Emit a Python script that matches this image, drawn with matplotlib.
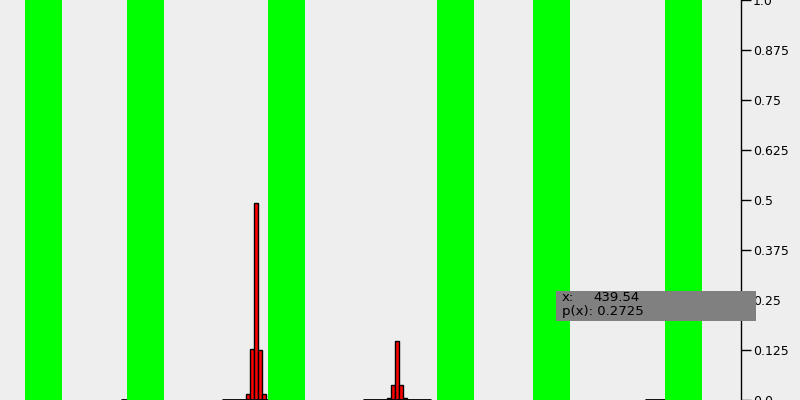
import numpy as np
import matplotlib.pyplot as plt

# green bands (x start, width in data units)
band_starts = [25, 127, 268, 437, 533, 665]
band_width = 37

# histogram bins: left edges and heights
bin_width = 4
left_1 = [222, 226, 230, 234, 238, 242, 246, 250, 254, 258, 262, 266]
height_1 = [0, 0, 0, 0, 0, 0, 0.015, 0.1275, 0.4925, 0.125, 0.015, 0]
left_2 = [363, 367, 371, 375, 379, 383, 387, 391, 395, 399, 403, 407, 411, 415, 419, 423, 427]
height_2 = [0, 0, 0, 0, 0, 0, 0.005, 0.0375, 0.1475, 0.0375, 0.005, 0, 0, 0, 0, 0, 0]
left_3 = [121, 125]
height_3 = [0, 0]
left_4 = [645, 649, 653, 657, 661]
height_4 = [0, 0, 0, 0, 0]

yticks = [0, 0.125, 0.25, 0.375, 0.5, 0.625, 0.75, 0.875, 1.0]
ylabels = ["0.0", "0.125", "0.25", "0.375", "0.5", "0.625", "0.75", "0.875", "1.0"]

tip_x = "439.54"
tip_p = "0.2725"

fig = plt.figure(figsize=(8, 4), dpi=100, facecolor="#eeeeee")
ax = fig.add_axes([0, 0, 1, 1])
ax.set_facecolor("#eeeeee")

for lefts, heights in [(left_1, height_1), (left_2, height_2), (left_3, height_3), (left_4, height_4)]:
    ax.bar(lefts, heights, width=bin_width, align="edge", color="#ff0000",
           edgecolor="black", linewidth=1.0, zorder=2)
    # bottom line of the bins
    ax.hlines(0, lefts[0], lefts[-1] + bin_width, color="black", linewidth=2.0, zorder=2)

for s in band_starts:
    ax.axvspan(s, s + band_width, color="#00ff00", lw=0, zorder=3)

ax.set_xlim(0, 800)
ax.set_ylim(0, 1)

for side in ["left", "top", "bottom"]:
    ax.spines[side].set_visible(False)
ax.spines["right"].set_position(("data", 740.5))
ax.spines["right"].set_linewidth(1.0)
ax.spines["right"].set_zorder(4)
ax.yaxis.tick_right()
ax.set_yticks(yticks)
ax.set_yticklabels(ylabels)
ax.tick_params(axis="y", direction="out", length=7, width=1.0, pad=2, labelsize=9)
ax.set_xticks([])

# tooltip box
box = plt.Rectangle((556 / 800, 1 - 321 / 400), 200 / 800, 30 / 400,
                    transform=fig.transFigure, facecolor="#808080", edgecolor="none", zorder=10)
fig.patches.append(box)
fig.text(562 / 800, 1 - 301 / 400, "x:", fontsize=9.5, va="baseline", zorder=11)
fig.text(593 / 800, 1 - 301 / 400, tip_x, fontsize=9.5, va="baseline", zorder=11)
fig.text(562 / 800, 1 - 315 / 400, "p(x): " + tip_p, fontsize=9.5, va="baseline", zorder=11)

fig.savefig("out.png", dpi=100, facecolor="#eeeeee")
